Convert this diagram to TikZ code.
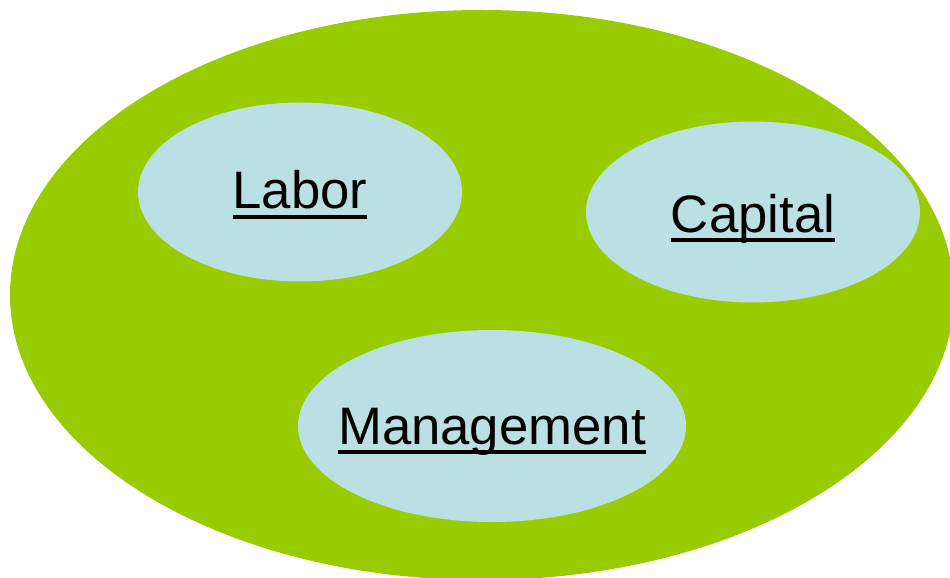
\documentclass[tikz,border=0pt]{standalone}
\usepackage{fontspec}
\setmainfont{Liberation Sans}
\usepackage{tikz}
\usetikzlibrary{shapes.geometric}
\definecolor{field}{HTML}{99CC00}
\definecolor{factor}{HTML}{BAE0E4}
\definecolor{ink}{HTML}{000000}
% text with a heavy rule a little under its baseline (descenders ignored)
\newcommand{\ulword}[1]{\vtop{\hbox{\raisebox{0pt}[\height][0pt]{#1}}\kern3.6pt\hrule height 2pt}}
\tikzset{
  whole/.style={fill=field},
  blob/.style={ellipse, fill=factor, inner sep=0pt},
  word/.style={text=ink, font=\fontsize{30}{34}\selectfont, inner sep=0pt, anchor=base},
}

\begin{document}
\begin{tikzpicture}
  \clip (0,0) rectangle (19,11.54);
  \fill[whole] (9.64,5.64) ellipse [x radius=9.44cm, y radius=5.7cm];
  \node[blob, minimum width=6.48cm, minimum height=3.58cm] (labor) at (6.0,7.7) {};
  \node[blob, minimum width=6.68cm, minimum height=3.62cm] (capital) at (15.06,7.3) {};
  \node[blob, minimum width=7.76cm, minimum height=3.84cm] (management) at (9.84,3.02) {};
  \node[word] (labor-txt) at ([yshift=-0.34cm]labor.center) {\ulword{Labor}};
  \node[word] (capital-txt) at ([yshift=-0.4cm]capital.center) {\ulword{Capital}};
  \node[word] (management-txt) at ([yshift=-0.36cm]management.center) {\ulword{Management}};
\end{tikzpicture}
\end{document}
